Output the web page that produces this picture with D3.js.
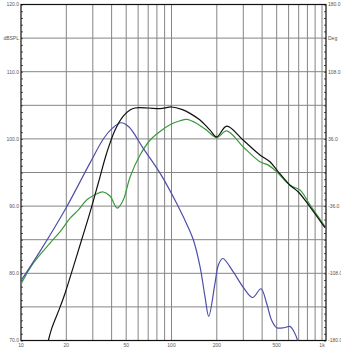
<!DOCTYPE html>
<html>
<head>
<meta charset="utf-8">
<script src="https://cdn.jsdelivr.net/npm/d3@7"></script>
<style>
  body { margin: 0; background: #fff; }
  text { font-family: "Liberation Sans", Arial, sans-serif; }
</style>
</head>
<body>
<div id="chart"></div>
<script>
//************************************************************************
// data: [frequency Hz, dB SPL]
//************************************************************************
var blackCurve = [
  [15.2, 70], [16.0, 71.8], [18.2, 75.0], [19.6, 77.0], [22.3, 81.0], [25.3, 85.0],
  [28.0, 88.2], [32.6, 93.4], [37.1, 97.9], [42.1, 101.3], [47.8, 103.4], [53, 104.3],
  [57.2, 104.6], [70, 104.6], [83.9, 104.5], [100.3, 104.75], [116.9, 104.4],
  [132.7, 103.8], [154.7, 102.8], [180.3, 101.3], [199.7, 100.3], [232.7, 101.9],
  [300, 99.8], [387, 97.6], [451, 96.6], [500, 95.4], [613, 93.1], [696, 92.1],
  [832, 89.9], [1045, 86.8]
];

var blueCurve = [
  [10, 78.9], [13.4, 83.3], [20, 89.8], [28.7, 96.4], [35.5, 100.1], [40.5, 101.6],
  [46.2, 102.4], [52, 101.8], [64.9, 98.6], [83.9, 94.9], [108.3, 90.4], [119.8, 88.4],
  [139.6, 85.0], [154.7, 81.0], [167, 76.5], [176.7, 73.6], [194.5, 78.5], [204.6, 81.2],
  [218.9, 82.2], [257.4, 80.2], [300, 77.9], [346, 76.4], [393, 77.7], [429, 75.5],
  [463, 73.0], [500, 71.9], [560, 71.9], [613, 72.1], [652, 71.3], [689, 70.0], [720, 68]
];

var greenCurve = [
  [10, 78.4], [12.07, 81.5], [15.6, 84.5], [18.2, 86.2], [21.2, 88.2], [24, 89.4],
  [27.3, 90.9], [31, 91.7], [35.2, 92.1], [39, 91.5], [43.6, 89.7], [47.8, 90.9],
  [53, 94.3], [61.8, 97.6], [72, 99.8], [83.9, 101.1], [97.7, 102.1], [113.9, 102.7],
  [126.2, 102.9], [147.1, 102.3], [171.3, 101.3], [199.7, 100.2], [232.7, 101.2],
  [300, 98.8], [387, 96.6], [440, 96.1], [500, 95.1], [613, 93.1], [714, 92.4],
  [832, 90.2], [1045, 87.0]
];

var xGrid = [20, 30, 40, 50, 60, 70, 80, 90, 100, 200, 300, 400, 500, 600, 700, 800, 900, 1000];
var xLabels = [[10, "10"], [20, "20"], [50, "50"], [100, "100"], [200, "200"], [500, "500"], [1000, "1k"]];
var yGrid = [75, 80, 85, 90, 95, 100, 105, 110, 115];
var leftLabels = [[120, "120.0"], [115, "dBSPL"], [110, "110.0"], [100, "100.0"], [90, "90.0"], [80, "80.0"], [70, "70.0"]];
var rightLabels = [[120, "180.0"], [115, "Deg"], [110, "108.0"], [100, "36.0"], [90, "-36.0"], [80, "-108.0"], [70, "-180.0"]];

//************************************************************************
// display settings
//************************************************************************
var svgWidth = 341;
var svgHeight = 349;
var plot = { left: 21, right: 326, top: 4.5, bottom: 340.5 };

var svg = d3.select("#chart")
  .append("svg")
  .attr("width", svgWidth)
  .attr("height", svgHeight);

var x = d3.scaleLog().domain([10, 1063]).range([plot.left, plot.right]);
var y = d3.scaleLinear().domain([70, 120]).range([plot.bottom, plot.top]);

//************************************************************************
// grid
//************************************************************************
svg.append("g").selectAll("line")
  .data(xGrid)
  .enter().append("line")
  .attr("x1", d => x(d)).attr("x2", d => x(d))
  .attr("y1", plot.top).attr("y2", plot.bottom)
  .attr("stroke", "#858585").attr("stroke-width", 1);

svg.append("g").selectAll("line")
  .data(yGrid)
  .enter().append("line")
  .attr("x1", plot.left).attr("x2", plot.right)
  .attr("y1", d => y(d)).attr("y2", d => y(d))
  .attr("stroke", "#858585").attr("stroke-width", 1);

//************************************************************************
// axes with 1 dB minor ticks pointing inward
//************************************************************************
var leftAxis = d3.axisRight(y).ticks(50).tickSize(2).tickFormat("");
var rightAxis = d3.axisLeft(y).ticks(50).tickSize(2).tickFormat("");

svg.append("g")
  .attr("transform", `translate(${plot.left},0)`)
  .call(leftAxis)
  .call(g => g.select(".domain").remove())
  .selectAll("line").attr("stroke", "#555");

svg.append("g")
  .attr("transform", `translate(${plot.right},0)`)
  .call(rightAxis)
  .call(g => g.select(".domain").remove())
  .selectAll("line").attr("stroke", "#555");

svg.append("rect")
  .attr("x", plot.left).attr("y", plot.top)
  .attr("width", plot.right - plot.left)
  .attr("height", plot.bottom - plot.top)
  .attr("fill", "none")
  .attr("stroke", "#111")
  .attr("stroke-width", 1.2);

//************************************************************************
// labels
//************************************************************************
svg.append("g").selectAll("text")
  .data(leftLabels)
  .enter().append("text")
  .attr("x", plot.left - 2)
  .attr("y", d => y(d[0]) + 1.8)
  .attr("text-anchor", "end")
  .attr("font-size", 5)
  .attr("fill", "#555")
  .text(d => d[1]);

svg.append("g").selectAll("text")
  .data(rightLabels)
  .enter().append("text")
  .attr("x", plot.right + 2)
  .attr("y", d => y(d[0]) + 1.8)
  .attr("text-anchor", "start")
  .attr("font-size", 5)
  .attr("fill", "#555")
  .text(d => d[1]);

svg.append("g").selectAll("text")
  .data(xLabels)
  .enter().append("text")
  .attr("x", d => x(d[0]))
  .attr("y", plot.bottom + 6.5)
  .attr("text-anchor", "middle")
  .attr("font-size", 5)
  .attr("fill", "#555")
  .text(d => d[1]);

//************************************************************************
// curves
//************************************************************************
svg.append("clipPath").attr("id", "clip")
  .append("rect")
  .attr("x", plot.left).attr("y", plot.top)
  .attr("width", plot.right - plot.left)
  .attr("height", plot.bottom - plot.top);

var line = d3.line()
  .x(d => x(d[0]))
  .y(d => y(d[1]))
  .curve(d3.curveCatmullRom.alpha(0.5));

var curves = svg.append("g").attr("clip-path", "url(#clip)");

curves.append("path").datum(greenCurve)
  .attr("d", line).attr("fill", "none")
  .attr("stroke", "#3a9a3a").attr("stroke-width", 1.2);

curves.append("path").datum(blueCurve)
  .attr("d", line).attr("fill", "none")
  .attr("stroke", "#4e4eac").attr("stroke-width", 1.2);

curves.append("path").datum(blackCurve)
  .attr("d", line).attr("fill", "none")
  .attr("stroke", "#111").attr("stroke-width", 1.2);
</script>
</body>
</html>
